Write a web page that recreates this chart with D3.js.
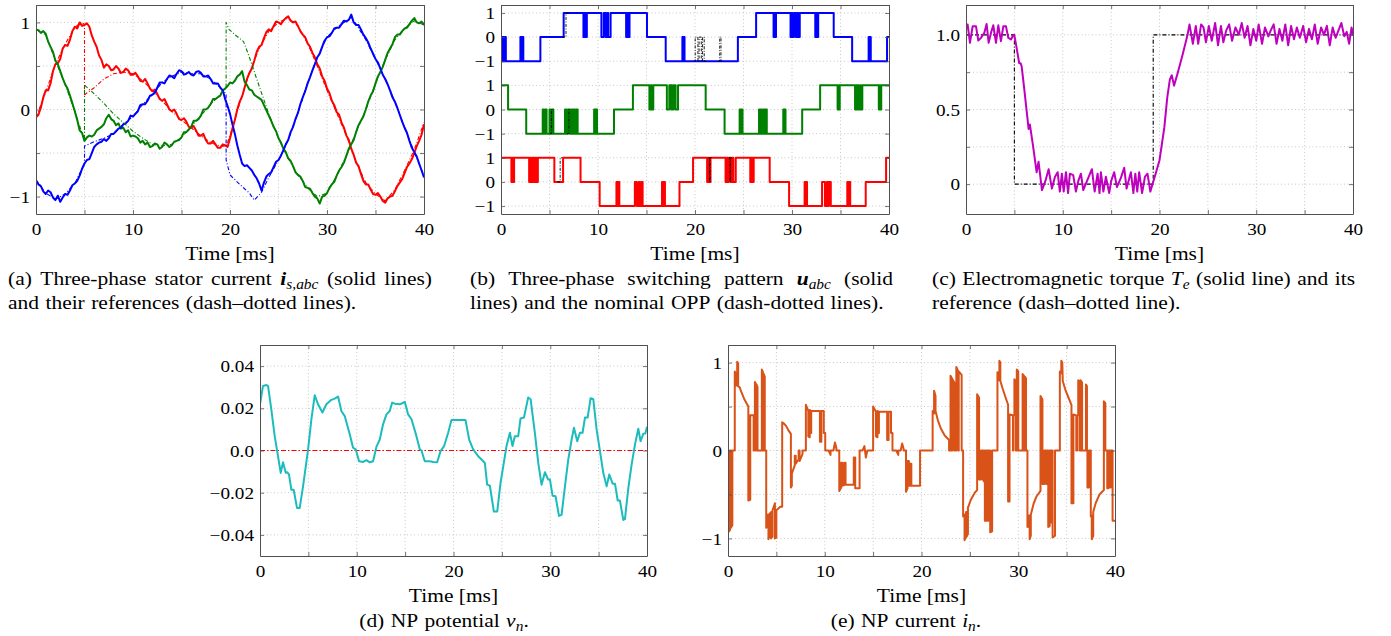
<!DOCTYPE html>
<html lang="en">
<head>
<meta charset="UTF-8">
<title>MPC with OPP - transient</title>
<script src="https://d3js.org/d3.v7.min.js"></script>
<style>
  body { margin: 0; background: #fff; }
  svg text { font-family: "Liberation Serif", "Times New Roman", serif; fill: #000; }
</style>
</head>
<body>
<svg id="fig" width="1391" height="636"></svg>
<script>
// ---------- data ----------
const xGrid = [0, 5, 10, 15, 20, 25, 30, 35, 40];
const xLabels = ["0", "", "10", "", "20", "", "30", "", "40"];

// (a) stator currents, sampled every 0.25 ms (rows of 10 ms)
const tSample = d3.range(0, 40.001, 0.25);
const iaVals = [
  -0.09,-0.06,0.02,0.14,0.22,0.22,0.30,0.44,0.52,0.53, 0.58,0.70,0.74,0.73,0.80,0.90,0.95,0.93,1.00,0.96, 0.97,0.99,0.95,0.85,0.78,0.72,0.62,0.57,0.48,0.52, 0.50,0.45,0.46,0.50,0.47,0.42,0.43,0.47,0.45,0.40,
  0.40,0.42,0.38,0.33,0.32,0.35,0.30,0.24,0.21,0.23, 0.18,0.12,0.10,0.12,0.06,0.0,-0.02,0.0,-0.05,-0.11, -0.12,-0.10,-0.14,-0.20,-0.21,-0.19,-0.24,-0.30,-0.30,-0.28, -0.35,-0.39,-0.39,-0.36,-0.40,-0.44,-0.44,-0.40,-0.41,-0.43,
  -0.33,-0.22,-0.12,0.0,0.09,0.15,0.25,0.35,0.42,0.47, 0.56,0.66,0.72,0.74,0.82,0.89,0.92,0.90,0.96,1.01, 1.0,0.98,1.02,1.05,1.07,1.02,1.0,1.01,0.96,0.90, 0.86,0.83,0.76,0.72,0.65,0.60,0.52,0.47,0.38,0.33,
  0.24,0.19,0.10,0.05,-0.03,-0.06,-0.15,-0.21,-0.30,-0.35, -0.45,-0.52,-0.61,-0.65,-0.74,-0.82,-0.86,-0.86,-0.92,-0.97, -0.98,-0.96,-1.0,-1.05,-1.07,-1.02,-1.0,-0.99,-0.94,-0.88, -0.84,-0.80,-0.73,-0.66,-0.62,-0.57,-0.50,-0.42,-0.36,-0.29,
  -0.17];
const ibVals = [
  0.92,0.91,0.88,0.90,0.87,0.78,0.72,0.66,0.56,0.52, 0.44,0.36,0.29,0.24,0.16,0.07,-0.02,-0.12,-0.24,-0.27, -0.36,-0.32,-0.30,-0.31,-0.29,-0.24,-0.22,-0.20,-0.17,-0.10, -0.06,-0.11,-0.13,-0.18,-0.16,-0.22,-0.21,-0.26,-0.24,-0.31,
  -0.30,-0.31,-0.33,-0.38,-0.36,-0.40,-0.38,-0.43,-0.42,-0.39, -0.40,-0.45,-0.43,-0.38,-0.40,-0.43,-0.41,-0.37,-0.36,-0.35, -0.32,-0.26,-0.26,-0.23,-0.20,-0.13,-0.13,-0.11,-0.07,0.0, 0.0,0.02,0.06,0.12,0.12,0.14,0.16,0.22,0.24,0.27,
  0.31,0.30,0.33,0.38,0.40,0.44,0.32,0.28,0.23,0.22, 0.17,0.15,0.13,0.11,0.05,-0.01,-0.07,-0.13,-0.20,-0.25, -0.33,-0.38,-0.45,-0.49,-0.56,-0.59,-0.65,-0.72,-0.75,-0.77, -0.82,-0.89,-0.90,-0.91,-0.96,-1.0,-1.02,-1.08,-1.0,-0.99,
  -0.96,-0.90,-0.86,-0.83,-0.76,-0.70,-0.66,-0.61,-0.53,-0.45, -0.40,-0.35,-0.26,-0.18,-0.13,-0.08,0.0,0.09,0.16,0.21, 0.30,0.38,0.43,0.49,0.57,0.65,0.70,0.75,0.83,0.86, 0.86,0.90,0.93,0.94,0.98,1.02,1.05,1.0,0.99,1.01,
  0.97];
const icVals = [
  -0.81,-0.86,-0.88,-0.94,-0.97,-0.93,-0.95,-1.01,-1.04,-0.99, -1.06,-1.01,-0.97,-0.98,-0.93,-0.87,-0.85,-0.82,-0.76,-0.68, -0.62,-0.58,-0.57,-0.50,-0.43,-0.40,-0.38,-0.37,-0.34,-0.36, -0.33,-0.28,-0.28,-0.25,-0.22,-0.21,-0.17,-0.16,-0.13,-0.07,
  -0.08,-0.05,-0.02,0.05,0.06,0.06,0.10,0.16,0.17,0.19, 0.25,0.31,0.31,0.30,0.35,0.39,0.38,0.36,0.41,0.45, 0.44,0.40,0.41,0.43,0.40,0.39,0.43,0.44,0.42,0.38, 0.38,0.39,0.35,0.30,0.30,0.30,0.25,0.22,0.12,0.04,
  -0.05,-0.17,-0.28,-0.41,-0.52,-0.62,-0.65,-0.64,-0.67,-0.70, -0.75,-0.79,-0.85,-0.93,-0.84,-0.77,-0.74,-0.72,-0.66,-0.60, -0.58,-0.53,-0.47,-0.40,-0.35,-0.26,-0.20,-0.11,-0.04,0.06, 0.14,0.21,0.30,0.37,0.45,0.52,0.60,0.64,0.72,0.79,
  0.83,0.84,0.88,0.93,0.94,0.94,0.98,1.02,1.01,1.03, 1.09,1.0,0.97,0.97,0.92,0.86,0.82,0.77,0.70,0.64, 0.58,0.54,0.47,0.40,0.35,0.29,0.22,0.14,0.09,0.02, -0.06,-0.14,-0.21,-0.27,-0.36,-0.44,-0.49,-0.54,-0.62,-0.70,
  -0.78];
// references (dash-dotted), [time, value]
const iaRef = [[0,-0.09],[1,0.2],[2,0.52],[3,0.75],[4,0.94],[4.6,1.0],[5,0.98],[5,0.17],[6,0.25],[7,0.35],[8,0.41],[9,0.43],[10,0.41],[11,0.33],[12,0.22],[13,0.1],[14,-0.02],[15,-0.12],[16,-0.21],[17,-0.3],[18,-0.38],[19,-0.42],[19.6,-0.42],[20,-0.3],[21,0.07],[22,0.42],[23,0.7],[24,0.9],[25,1.0],[26,1.05],[27,0.96],[28,0.76],[29,0.5],[30,0.22],[31,-0.04],[32,-0.3],[33,-0.6],[34,-0.84],[35,-0.97],[36,-1.05],[37,-0.92],[38,-0.7],[39,-0.46],[40,-0.15]];
const ibRef = [[0,0.92],[1,0.86],[2,0.56],[3,0.29],[4,-0.02],[5,-0.36],[5,0.28],[6,0.18],[7,0.07],[8,-0.05],[9,-0.15],[10,-0.25],[11,-0.33],[12,-0.4],[13,-0.42],[14,-0.4],[15,-0.32],[16,-0.2],[17,-0.07],[18,0.06],[19,0.17],[19.6,0.25],[19.6,1.0],[19.9,0.92],[20.5,0.86],[21.4,0.78],[22,0.6],[23,0.27],[24,-0.05],[25,-0.33],[26,-0.56],[27,-0.75],[28,-0.9],[29,-1.0],[30,-0.96],[31,-0.76],[32,-0.53],[33,-0.26],[34,0.0],[35,0.3],[36,0.57],[37,0.8],[38,0.93],[39,1.02],[40,0.97]];
const icRef = [[0,-0.81],[1,-0.96],[2,-1.03],[3,-0.97],[4,-0.85],[5,-0.62],[5,-0.42],[6,-0.37],[7,-0.33],[8,-0.28],[9,-0.17],[10,-0.08],[11,0.06],[12,0.17],[13,0.31],[14,0.38],[15,0.43],[16,0.41],[17,0.41],[18,0.35],[19,0.25],[19.6,0.18],[19.6,-0.58],[20,-0.75],[21,-0.86],[22,-0.96],[22.5,-1.04],[23.2,-0.96],[24,-0.78],[25,-0.58],[26,-0.35],[27,-0.04],[28,0.3],[29,0.6],[30,0.83],[31,0.94],[32,1.02],[32.5,1.06],[33,0.98],[34,0.8],[35,0.58],[36,0.35],[37,0.09],[38,-0.21],[39,-0.49],[40,-0.76]];

// (b) switching states [time, level]
const uaSw = [[0,0],[0.15,-1],[0.25,0],[0.35,-1],[0.42,0],[0.5,-1],[2.0,0],[2.1,-1],[2.2,0],[2.3,-1],[4.06,0],[6.46,1],[8.5,0],[8.6,1],[8.75,0],[8.85,1],[10.35,0],[10.6,1],[10.8,0],[10.95,1],[11.05,0],[11.3,1],[12.9,0],[13.0,1],[13.15,0],[13.25,1],[15.05,0],[16.98,-1],[18.7,0],[18.8,-1],[18.85,0],[18.92,-1],[24.42,0],[26.3,1],[28.1,0],[28.2,1],[28.28,0],[28.35,1],[29.85,0],[29.95,1],[30.05,0],[30.2,1],[30.4,0],[30.5,1],[30.65,0],[30.8,1],[32.4,0],[32.5,1],[32.6,0],[32.7,1],[34.3,0],[36.2,-1],[37.9,0],[38.0,-1],[38.05,0],[38.12,-1],[39.8,0],[40,0]];
const ubSw = [[0,1],[0.73,0],[2.6,-1],[4.3,0],[4.42,-1],[4.55,0],[4.7,-1],[5.0,0],[5.1,-1],[5.25,0],[5.4,-1],[6.6,0],[6.75,-1],[6.9,0],[7.1,-1],[7.25,0],[7.4,-1],[7.5,0],[7.65,-1],[7.75,0],[7.9,-1],[9.6,0],[9.72,-1],[9.78,0],[9.9,-1],[11.65,0],[13.6,1],[15.3,0],[15.42,1],[15.55,0],[15.7,1],[17.1,0],[17.35,1],[17.55,0],[17.6,1],[17.65,0],[17.8,1],[18.0,0],[18.25,1],[21.1,0],[23.05,-1],[24.6,0],[24.7,-1],[24.8,0],[24.9,-1],[26.6,0],[26.75,-1],[26.85,0],[26.92,-1],[27.05,0],[27.15,-1],[27.25,0],[27.4,-1],[29.1,0],[29.2,-1],[29.25,0],[29.33,-1],[31.05,0],[32.9,1],[34.7,0],[34.8,1],[34.85,0],[34.92,1],[36.5,0],[36.6,1],[36.67,0],[36.75,1],[36.9,0],[37.05,1],[37.12,0],[37.25,1],[38.95,0],[39.05,1],[39.1,0],[39.2,1],[40,1]];
const ucSw = [[0,1],[1.07,0],[1.2,1],[1.25,0],[1.35,1],[2.9,0],[3.0,1],[3.1,0],[3.25,1],[3.4,0],[3.55,1],[3.65,0],[3.8,1],[5.5,0],[6.4,1],[8.2,0],[10.17,-1],[11.9,0],[12.0,-1],[12.1,0],[12.2,-1],[13.8,0],[14.0,-1],[14.2,0],[14.3,-1],[14.45,0],[14.6,-1],[16.6,0],[16.7,-1],[16.78,0],[16.9,-1],[18.4,0],[19.8,1],[21.25,0],[21.35,1],[21.45,0],[21.6,1],[23.15,0],[23.3,1],[23.38,0],[23.5,1],[23.7,0],[23.85,1],[23.95,0],[24.2,1],[25.7,0],[25.8,1],[25.9,0],[26.05,1],[27.7,0],[29.7,-1],[31.3,0],[31.42,-1],[31.48,0],[31.55,-1],[33.1,0],[33.4,-1],[33.6,0],[33.72,-1],[33.8,0],[34.0,-1],[35.7,0],[35.8,-1],[35.9,0],[36.0,-1],[37.6,0],[39.7,1],[40,1]];
// nominal OPP, only the stretches where it differs from the modified pattern
const uaNom = [[[6.3,0],[6.7,1],[7.0,1]], [[19.9,-1],[20.02,0],[20.3,-1],[20.42,0],[20.65,-1],[20.78,0],[20.95,-1],[21.2,-1]], [[22.4,-1],[22.55,0],[22.68,-1],[22.9,-1]]];
const ubNom = [[[5.05,-1],[5.2,0],[5.35,0]], [[6.8,-1],[7.0,0],[7.15,0]]];
const ucNom = [[[5.8,0],[6.1,1],[6.3,1]], [[21.4,1],[21.5,0],[21.56,1],[21.7,1]], [[23.5,1],[23.6,0],[23.66,1],[23.8,1]]];

// (c) torque
const teMeas = [[0,1.036],[0.17,1.069],[0.41,0.947],[0.69,1.058],[1.03,1.058],[1.27,0.962],[1.55,0.98],[1.89,1.013],[2.13,1.073],[2.34,0.947],[2.58,1.013],[2.82,1.064],[3.1,0.947],[3.34,1.064],[3.61,0.958],[3.86,1.058],[4.13,1.058],[4.37,0.98],[4.65,0.969],[4.82,0.991],[4.99,1.0],[5.16,0.94],[5.5,0.81],[5.65,0.81],[5.75,0.79],[6.0,0.65],[6.47,0.37],[6.6,0.4],[6.9,0.27],[7.3,0.08],[7.5,0.15],[7.85,-0.04],[8.2,0.02],[8.54,0.1],[8.88,-0.03],[9.2,0.05],[9.47,0.08],[9.7,-0.05],[9.91,0.07],[10.1,-0.05],[10.33,0.08],[10.55,-0.06],[10.74,0.07],[11.08,0.06],[11.36,-0.05],[11.6,0.02],[11.88,0.07],[12.12,-0.04],[12.5,0.02],[13.01,0.1],[13.3,-0.05],[13.6,0.07],[13.8,-0.06],[13.94,0.08],[14.2,-0.05],[14.46,0.05],[14.8,-0.06],[15.0,0.02],[15.32,0.08],[15.6,-0.02],[16.0,0.04],[16.35,0.11],[16.6,-0.03],[17.04,0.08],[17.3,-0.06],[17.5,0.07],[17.7,-0.05],[17.9,0.08],[18.2,-0.06],[18.5,0.05],[18.76,0.07],[19.05,-0.05],[19.6,0.07],[20.0,0.16],[20.5,0.38],[20.8,0.58],[21.07,0.7],[21.27,0.73],[21.5,0.66],[21.86,0.74],[22.4,0.87],[22.9,1.0],[23.1,1.07],[23.45,0.94],[23.75,1.06],[24.0,0.94],[24.3,1.07],[24.55,1.05],[24.8,0.95],[25.1,1.06],[25.4,0.96],[25.75,1.08],[26.05,0.93],[26.35,1.06],[26.6,0.95],[26.9,1.03],[27.2,1.07],[27.5,0.96],[27.85,1.05],[28.2,1.0],[28.5,1.08],[28.8,0.98],[29.1,1.06],[29.4,0.93],[29.7,1.04],[30.0,0.96],[30.25,1.07],[30.6,0.94],[30.9,1.05],[31.25,0.99],[31.5,1.03],[31.8,1.07],[32.1,0.94],[32.4,1.04],[32.7,0.96],[33.0,1.07],[33.3,0.93],[33.6,1.06],[33.9,0.97],[34.2,1.05],[34.5,0.98],[34.85,1.06],[35.15,0.95],[35.45,1.04],[35.75,0.97],[36.05,1.07],[36.35,0.94],[36.7,1.05],[37.0,1.0],[37.3,1.06],[37.6,0.93],[37.9,1.05],[38.2,0.98],[38.5,1.03],[38.8,1.08],[39.1,0.99],[39.35,1.02],[39.6,0.94],[39.85,1.05],[40,1.0]];
const teRef = [[0,1],[5,1],[5,0],[19.35,0],[19.35,1],[40,1]];

// (d) NP potential
const vnMeas = [[0,0.0219],[0.31,0.0306],[0.66,0.031],[0.83,0.0306],[1.17,0.0195],[1.52,0.0068],[1.86,-0.0027],[2.14,-0.0106],[2.38,-0.0056],[2.66,-0.0106],[2.83,-0.0103],[3.0,-0.0114],[3.24,-0.0186],[3.48,-0.0186],[3.83,-0.0273],[4.1,-0.0273],[4.45,-0.017],[4.97,0.0005],[5.31,0.0148],[5.66,0.0262],[6.0,0.0219],[6.45,0.018],[6.86,0.0219],[7.38,0.024],[7.72,0.0246],[8.07,0.0256],[8.41,0.0187],[8.76,0.0163],[9.28,0.0076],[9.62,0.0013],[9.9,0.0005],[10.24,-0.0051],[10.66,-0.0054],[11.0,-0.0046],[11.34,-0.0056],[11.69,-0.0051],[12.03,0.0017],[12.38,0.0052],[12.72,0.0124],[13.07,0.0171],[13.41,0.0187],[13.66,0.0227],[13.93,0.0222],[14.45,0.0219],[14.97,0.023],[15.31,0.0171],[15.66,0.0148],[16.17,0.0068],[16.52,0.0005],[16.69,0.0],[17.03,-0.0051],[17.55,-0.0051],[17.9,-0.0054],[18.31,-0.0056],[18.66,-0.0003],[19.03,0.0021],[19.45,0.0084],[19.79,0.0144],[20.31,0.0144],[20.83,0.0144],[21.24,0.0144],[21.62,0.0052],[22.03,0.0005],[22.55,-0.0027],[22.9,-0.0043],[23.24,-0.0059],[23.48,-0.0162],[23.76,-0.0167],[24.17,-0.0289],[24.52,-0.0289],[24.86,-0.0154],[25.2,-0.0059],[25.48,0.0021],[25.83,0.0084],[26.1,0.0021],[26.34,0.0068],[26.69,0.0068],[26.93,0.0152],[27.28,0.0156],[27.72,0.0251],[27.97,0.0243],[28.41,0.0084],[28.76,-0.0059],[29.1,-0.0162],[29.45,-0.0103],[29.79,-0.0138],[29.97,-0.0138],[30.24,-0.0214],[30.55,-0.0217],[30.9,-0.031],[31.17,-0.0305],[31.52,-0.017],[31.86,-0.0043],[32.21,0.0052],[32.45,0.0108],[32.79,0.0044],[33.07,0.0084],[33.34,0.0084],[33.59,0.0156],[33.86,0.0156],[34.17,0.0248],[34.45,0.0243],[34.79,0.01],[35.14,-0.0003],[35.48,-0.0106],[35.83,-0.017],[36.1,-0.0114],[36.45,-0.0157],[36.69,-0.0157],[36.97,-0.0237],[37.2,-0.0237],[37.55,-0.0329],[37.72,-0.0325],[38.07,-0.0178],[38.41,-0.0067],[38.76,0.0029],[39.1,0.0103],[39.34,0.0044],[39.62,0.008],[39.83,0.0081],[40,0.0113]];
const vnRef = [[0,0],[40,0]];

// (e) NP current
const inMeas = [[0,0],[0.1,0],[0.1,-0.92],[0.22,-0.9],[0.22,0],[0.28,0],[0.28,-0.88],[0.45,-0.85],[0.45,0],[0.7,0],[0.7,0.9],[0.85,0.87],[0.85,0.74],[0.95,0.74],[0.95,1.01],[1.05,0.99],[1.05,0.73],[1.2,0.72],[1.4,0.66],[1.7,0.58],[2.0,0.52],[2.1,0.5],[2.1,-0.57],[2.3,-0.56],[2.3,0.4],[2.65,0.4],[2.65,0],[2.72,0],[2.72,0.4],[2.78,0.4],[2.78,0.78],[2.88,0.76],[2.88,0],[2.95,0],[2.95,0.75],[3.05,0.72],[3.05,0],[3.5,0],[3.5,0.92],[3.6,0.9],[3.6,0],[3.65,0],[3.65,0.88],[3.8,0.84],[3.8,0],[3.95,0],[3.95,-0.88],[4.1,-0.86],[4.1,-0.73],[4.18,-0.73],[4.18,-1.01],[4.3,-0.97],[4.3,-0.72],[4.45,-0.7],[4.45,-1.0],[4.6,-0.98],[4.6,-0.68],[4.85,-0.6],[4.85,-1.0],[5.0,-0.99],[5.0,-0.68],[5.4,-0.64],[5.6,-0.64],[5.6,0.32],[5.75,0.31],[6.0,0.28],[6.3,0.22],[6.5,0.19],[6.5,-0.42],[6.6,-0.4],[6.6,-0.26],[6.9,-0.17],[6.9,-0.06],[7.0,-0.06],[7.0,-0.15],[7.3,-0.1],[7.3,0],[7.4,0],[7.4,-0.12],[7.7,-0.04],[7.7,0],[8.05,0],
  [8.05,0.52],[8.2,0.48],[8.3,0.45],[8.3,0.16],[8.45,0.15],[8.45,0.46],[8.55,0.45],[8.55,0.2],[8.6,0.2],[8.6,0.45],[9.5,0.45],[9.5,0.1],[9.65,0.1],[9.65,0.45],[9.9,0.45],[9.9,0.2],[10.05,0.2],[10.05,0],[10.4,0],[10.6,-0.05],[10.6,0],[10.9,0],[11.05,0.09],[11.2,0.03],[11.2,0],[11.5,0],[11.5,-0.46],[11.7,-0.42],[11.7,-0.14],[11.85,-0.14],[11.85,-0.4],[12.05,-0.39],[12.05,-0.14],[12.15,-0.14],[12.15,-0.39],[13.0,-0.39],[13.0,-0.08],[13.15,-0.08],[13.15,-0.43],[13.6,-0.43],[13.6,0],[13.9,0],[14.1,0.05],[14.25,-0.08],[14.4,0],[15.0,0],
  [15.0,0.5],[15.15,0.47],[15.3,0.44],[15.3,0.16],[15.45,0.15],[15.45,0.45],[15.55,0.44],[15.55,0.2],[15.6,0.2],[15.6,0.44],[16.45,0.44],[16.45,0.12],[16.6,0.12],[16.6,0.44],[16.85,0.44],[16.85,0.2],[17.0,0.2],[17.0,0],[17.4,0],[17.6,-0.05],[17.6,0],[17.85,0],[18.0,0.08],[18.15,0.02],[18.15,0],[18.4,0],[18.4,-0.47],[18.55,-0.43],[18.55,-0.12],[18.7,-0.12],[18.7,-0.4],[18.85,-0.4],[18.85,-0.15],[18.95,-0.15],[18.95,-0.4],[19.85,-0.4],[19.85,0],[21.15,0],
  [21.15,0.45],[21.3,0.42],[21.3,0.68],[21.45,0.62],[21.45,0.45],[21.7,0.34],[22.0,0.25],[22.4,0.17],[22.85,0.12],[22.85,0],[23.0,0],[23.0,0.85],[23.15,0.82],[23.15,0],[23.2,0],[23.2,0.81],[23.4,0.77],[23.4,0],[23.6,0],[23.6,0.95],[23.8,0.9],[23.8,0],[23.85,0],[23.85,0.9],[24.15,0.86],[24.15,0],[24.3,0],[24.3,-0.75],[24.45,-0.73],[24.45,-1.02],[24.6,-0.98],[24.6,-0.7],[24.65,-0.7],[24.65,-0.98],[24.8,-0.95],[24.8,-0.65],[25.1,-0.56],[25.5,-0.48],[25.75,-0.45],[25.75,0.64],[25.95,0.6],[25.95,-0.33],[26.15,-0.33],[26.15,0],[26.35,0],[26.35,-0.33],[26.45,-0.35],[26.45,0],[26.55,0],[26.55,-0.8],[26.7,-0.8],[26.7,0],[26.8,0],[26.8,-0.8],[26.9,-0.8],[26.9,0],[27.1,0],[27.1,-0.93],[27.3,-0.92],[27.3,0],[27.85,0],
  [27.85,0.89],[28.0,0.87],[28.0,0.8],[28.05,0.8],[28.05,1.02],[28.15,1.0],[28.15,0.79],[28.4,0.7],[28.7,0.6],[28.95,0.52],[28.95,-0.58],[29.1,-0.58],[29.1,0.41],[29.45,0.4],[29.45,0],[29.5,0],[29.5,0.4],[29.6,0.4],[29.6,0.81],[29.75,0.79],[29.75,0],[29.85,0],[29.85,0.92],[30.0,0.9],[30.0,0],[30.45,0],[30.45,0.87],[30.6,0.85],[30.6,0],[30.7,0],[30.7,0.84],[30.8,0.82],[30.8,0],[30.95,0],[30.95,-0.87],[31.1,-0.86],[31.1,-0.74],[31.18,-0.74],[31.18,-1.01],[31.3,-0.97],[31.3,-0.73],[31.6,-0.6],[31.9,-0.52],[32.3,-0.46],[32.3,0.62],[32.5,0.58],[32.5,-0.38],[32.7,-0.38],[32.7,0],[32.9,0],[32.9,-0.38],[33.0,-0.38],[33.0,0],[33.1,0],[33.1,-0.87],[33.25,-0.86],[33.25,0],[33.35,0],[33.35,-0.82],[33.45,-0.82],[33.45,0],[33.55,0],[33.55,-0.99],[33.8,-0.97],[33.8,0],[34.3,0],
  [34.3,0.9],[34.45,0.88],[34.45,1.02],[34.55,1.0],[34.6,0.79],[34.9,0.68],[35.2,0.6],[35.5,0.52],[35.5,-0.6],[35.7,-0.6],[35.7,0.41],[36.0,0.4],[36.0,0],[36.1,0],[36.1,0.4],[36.2,0.4],[36.2,0.8],[36.35,0.78],[36.35,0],[36.45,0],[36.45,0.8],[36.6,0.77],[36.6,0],[37.0,0],[37.0,0.75],[37.1,0.73],[37.1,0],[37.15,0],[37.15,-0.42],[37.3,-0.42],[37.3,0],[37.5,0],[37.5,-0.75],[37.6,-0.74],[37.6,-1.01],[37.75,-0.97],[37.75,-0.7],[38.0,-0.6],[38.4,-0.5],[38.85,-0.45],[38.85,0.56],[39.0,0.54],[39.0,0],[39.2,0],[39.2,-0.43],[39.3,-0.43],[39.3,0],[39.45,0],[39.45,-0.42],[39.55,-0.42],[39.55,0],[39.75,0],[39.75,-0.8],[40,-0.8]];

// y tick values and their labels
const yTicksA = [-1, -0.5, 0, 0.5, 1];
const yLabelsA = ["\u22121", "", "0", "", "1"];
const yTicksB = [-1, 0, 1, 2, 3, 4, 5, 6, 7];
const yLabelsB = ["\u22121", "0", "1", "\u22121", "0", "1", "\u22121", "0", "1"];
const yTicksC = [0, 0.25, 0.5, 0.75, 1];
const yLabelsC = ["0", "", "0.5", "", "1.0"];
const yTicksD = [-0.04, -0.02, 0, 0.02, 0.04];
const yLabelsD = ["\u22120.04", "\u22120.02", "0.0", "0.02", "0.04"];
const yTicksE = [-1, -0.5, 0, 0.5, 1];
const yLabelsE = ["\u22121", "", "0", "", "1"];

// ---------- drawing ----------
const svg = d3.select("#fig");
const SX = 1.13;          // text in the source is a little wider than tall
const TICK_FS = 17, LAB_FS = 19, CAP_FS = 19;
const FRAME = "#505050", GRID = "#c8c8c8";
let clipN = 0;

function makePanel(box, yDom, yTicks, yLabels) {
  const x = d3.scaleLinear().domain([0, 40]).range([box.l, box.r]);
  const y = d3.scaleLinear().domain(yDom).range([box.b, box.t]);
  const g = svg.append("g");
  const id = "clip" + (clipN++);
  svg.append("clipPath").attr("id", id).append("rect")
    .attr("x", box.l).attr("y", box.t).attr("width", box.r - box.l).attr("height", box.b - box.t);

  // dotted grid
  g.append("g").selectAll("line").data(xGrid.slice(1, -1)).join("line")
    .attr("x1", d => x(d)).attr("x2", d => x(d)).attr("y1", box.t).attr("y2", box.b)
    .attr("stroke", GRID).attr("stroke-width", 1).attr("stroke-dasharray", "1,2.5");
  g.append("g").selectAll("line").data(yTicks).join("line")
    .attr("x1", box.l).attr("x2", box.r).attr("y1", d => y(d)).attr("y2", d => y(d))
    .attr("stroke", GRID).attr("stroke-width", 1).attr("stroke-dasharray", "1,2.5");

  const plot = g.append("g").attr("clip-path", `url(#${id})`);

  function frame() {
    const ax = g.append("g");
    const bottom = ax.append("g").attr("transform", `translate(0,${box.b})`)
      .call(d3.axisBottom(x).tickValues(xGrid).tickSize(-4).tickSizeOuter(0)
        .tickFormat((d, i) => xLabels[i]));
    bottom.selectAll("text").attr("y", 21.5).attr("dy", null)
      .attr("font-size", TICK_FS).attr("transform", `scale(${SX},1)`);
    ax.append("g").attr("transform", `translate(0,${box.t})`)
      .call(d3.axisTop(x).tickValues(xGrid).tickSize(-4).tickSizeOuter(0).tickFormat(""));
    const left = ax.append("g").attr("transform", `translate(${box.l},0)`)
      .call(d3.axisLeft(y).tickValues(yTicks).tickSize(-4).tickSizeOuter(0)
        .tickFormat((d, i) => yLabels[i]));
    left.selectAll("text").attr("x", -6 / SX).attr("dy", "0.33em")
      .attr("font-size", TICK_FS).attr("transform", `scale(${SX},1)`);
    ax.append("g").attr("transform", `translate(${box.r},0)`)
      .call(d3.axisRight(y).tickValues(yTicks).tickSize(-4).tickSizeOuter(0).tickFormat(""));
    ax.selectAll("path.domain").attr("stroke", FRAME).attr("stroke-width", 1);
    ax.selectAll(".tick line").attr("stroke", FRAME).attr("stroke-width", 0.8);
    ax.selectAll("text").attr("fill", "#000");

    g.append("g").attr("transform", `translate(${(box.l + box.r) / 2},${box.b + 46}) scale(${SX},1)`)
      .append("text").attr("text-anchor", "middle").attr("font-size", LAB_FS).text("Time [ms]");
  }
  return { x, y, g, plot, frame, box };
}

function drawLine(p, data, color, width, dash, curve, offset) {
  const off = offset || 0;
  const line = d3.line().x(d => p.x(d[0])).y(d => p.y(d[1] + off)).curve(curve || d3.curveLinear);
  p.plot.append("path").datum(data).attr("d", line)
    .attr("fill", "none").attr("stroke", color).attr("stroke-width", width)
    .attr("stroke-linejoin", "round")
    .attr("stroke-dasharray", dash || null);
}

const zipT = vals => vals.map((v, i) => [tSample[i], v]);
const DASHDOT = "4,2,1,2";
const RED = "#ff0000", GREEN = "#008000", BLUE = "#0000ff";

// (a)
const pa = makePanel({ l: 36, r: 424, t: 5, b: 214 }, [-1.2, 1.2], yTicksA, yLabelsA);
drawLine(pa, zipT(iaVals), RED, 2);
drawLine(pa, zipT(ibVals), GREEN, 2);
drawLine(pa, zipT(icVals), BLUE, 2);
drawLine(pa, iaRef, RED, 1.1, DASHDOT);
drawLine(pa, ibRef, GREEN, 1.1, DASHDOT);
drawLine(pa, icRef, BLUE, 1.1, DASHDOT);
pa.frame();

// (b)
const pb = makePanel({ l: 501, r: 889, t: 5, b: 214 }, [-1.33, 7.33], yTicksB, yLabelsB);
drawLine(pb, uaSw, BLUE, 2, null, d3.curveStepAfter, 6);
drawLine(pb, ubSw, GREEN, 2, null, d3.curveStepAfter, 3);
drawLine(pb, ucSw, RED, 2, null, d3.curveStepAfter, 0);
// nominal pattern on top, visible where it differs
[[uaNom, 6], [ubNom, 3], [ucNom, 0]].forEach(([segs, off]) =>
  segs.forEach(s => drawLine(pb, s, "#000", 0.9, "3,1.5,1,1.5", d3.curveStepAfter, off)));
pb.frame();

// (c)
const pc = makePanel({ l: 966, r: 1353, t: 5, b: 214 }, [-0.2, 1.2], yTicksC, yLabelsC);
drawLine(pc, teRef, "#000", 1.1, DASHDOT);
drawLine(pc, teMeas, "#bf00bf", 2);
pc.frame();

// (d)
const pd = makePanel({ l: 260, r: 647, t: 345, b: 556 }, [-0.05, 0.05], yTicksD, yLabelsD);
drawLine(pd, vnRef, RED, 1.2, "5,2,1.5,2");
drawLine(pd, vnMeas, "#1cbcbc", 2);
pd.frame();

// (e)
const pe = makePanel({ l: 728, r: 1115, t: 345, b: 556 }, [-1.2, 1.2], yTicksE, yLabelsE);
drawLine(pe, inMeas, "#d95319", 2);
pe.frame();

// ---------- captions ----------
function caption(x0, base, words, width, mode) {
  const g = svg.append("g").attr("transform", `translate(${x0},${base}) scale(${SX},1)`);
  const nodes = words.map(w => {
    const parts = typeof w === "string" ? [{ t: w }] : w;
    const t = g.append("text").attr("font-size", CAP_FS);
    parts.forEach(p => {
      const ts = t.append("tspan").text(p.t);
      if (p.b) ts.attr("font-weight", "bold");
      if (p.i) ts.attr("font-style", "italic");
      if (p.sub) ts.attr("font-size", CAP_FS * 0.72).attr("dy", CAP_FS * 0.22);
      if (p.up) ts.attr("dy", -CAP_FS * 0.22);
    });
    return t;
  });
  const ws = nodes.map(n => n.node().getComputedTextLength());
  const total = d3.sum(ws);
  const space = CAP_FS * 0.3;
  let gap = space, start = 0;
  if (mode === "justify") gap = (width / SX - total) / (words.length - 1);
  if (mode === "center") start = -(total + space * (words.length - 1)) / 2;
  let cx = start;
  nodes.forEach((n, i) => { n.attr("x", cx); cx += ws[i] + gap; });
}

const iVec = [{ t: "i", b: 1, i: 1 }, { t: "s,abc", i: 1, sub: 1 }];
const uVec = [{ t: "u", b: 1, i: 1 }, { t: "abc", i: 1, sub: 1 }];
const teSym = [{ t: "T", i: 1 }, { t: "e", i: 1, sub: 1 }];
const vnSym = [{ t: "v", i: 1 }, { t: "n", i: 1, sub: 1 }, { t: ".", up: 1 }];
const inSym = [{ t: "i", i: 1 }, { t: "n", i: 1, sub: 1 }, { t: ".", up: 1 }];

caption(8, 285, ["(a)", "Three-phase", "stator", "current", iVec, "(solid", "lines)"], 424, "justify");
caption(8, 308.5, "and their references (dash\u2013dotted lines).".split(" "), 0, "left");
caption(470, 285, ["(b)", "Three-phase", "switching", "pattern", uVec, "(solid"], 423, "justify");
caption(470, 308.5, "lines) and the nominal OPP (dash-dotted lines).".split(" "), 0, "left");
caption(932, 285, ["(c)", "Electromagnetic", "torque", teSym, "(solid", "line)", "and", "its"], 423, "justify");
caption(932, 308.5, "reference (dash\u2013dotted line).".split(" "), 0, "left");
caption(444, 627, ["(d)", "NP", "potential", vnSym], 0, "center");
caption(906, 627, ["(e)", "NP", "current", inSym], 0, "center");
</script>
</body>
</html>
